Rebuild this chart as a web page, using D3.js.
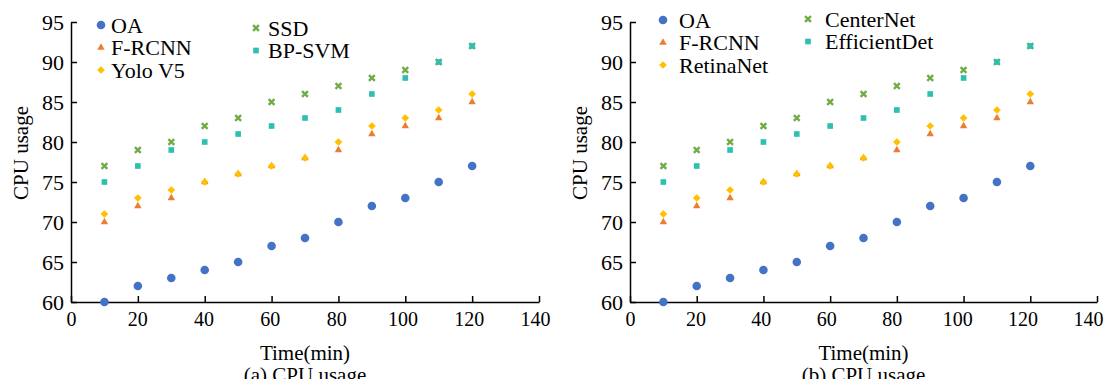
<!DOCTYPE html>
<html>
<head>
<meta charset="utf-8">
<script src="https://cdn.jsdelivr.net/npm/d3@7"></script>
<style>
  body { margin: 0; background: #fff; }
  svg text { font-family: "Liberation Serif", "DejaVu Serif", "Noto Serif", serif !important; fill: #000; }
</style>
</head>
<body>
<svg id="chart" width="1105" height="379"></svg>
<script>
// Dados
const TIMES = [10, 20, 30, 40, 50, 60, 70, 80, 90, 100, 110, 120]
const OA = [60, 62, 63, 64, 65, 67, 68, 70, 72, 73, 75, 77]
const FRCNN = [70, 72, 73, 75, 76, 77, 78, 79, 81, 82, 83, 85]
const DET3 = [71, 73, 74, 75, 76, 77, 78, 80, 82, 83, 84, 86]
const DET4 = [77, 79, 80, 82, 83, 85, 86, 87, 88, 89, 90, 92]
const DET5 = [75, 77, 79, 80, 81, 82, 83, 84, 86, 88, 90, 92]
const X_TICKS = [0, 20, 40, 60, 80, 100, 120, 140]
const Y_TICKS = [60, 65, 70, 75, 80, 85, 90, 95]
const NAMES_A = ['OA', 'F-RCNN', 'Yolo V5', 'SSD', 'BP-SVM']
const NAMES_B = ['OA', 'F-RCNN', 'RetinaNet', 'CenterNet', 'EfficientDet']

const COLORS = ['#4472c4', '#ed7d31', '#ffc000', '#70ad47', '#2ebfb0']
const SYMBOLS = [d3.symbolCircle, d3.symbolTriangle, d3.symbolSquare, d3.symbolX, d3.symbolSquare]
const SIZES = [58, 24, 30, 24, 32]
const ROTATE = [0, 0, 45, 0, 0] // o "diamante" é um quadrado rodado
const SERIES = [OA, FRCNN, DET3, DET4, DET5]
const FONT = '"Liberation Serif", "DejaVu Serif", serif'

const svg = d3.select('#chart')

function marker (g, i, px, py) {
  const path = g.append('path')
    .attr('d', d3.symbol(SYMBOLS[i], SIZES[i])())
    .attr('transform', `translate(${px},${py}) rotate(${ROTATE[i]})`)
  if (SYMBOLS[i] === d3.symbolX) {
    path.attr('fill', 'none').attr('stroke', COLORS[i]).attr('stroke-width', 2.4)
  } else {
    path.attr('fill', COLORS[i])
  }
  return path
}

function drawPanel (opts) {
  const x = d3.scaleLinear().domain([0, 140]).range([opts.left, opts.right])
  const y = d3.scaleLinear().domain([60, 95]).range([302, 22])
  const g = svg.append('g').attr('font-family', FONT)

  // Eixo x (os rótulos ficam ligeiramente à esquerda das marcas, como no original)
  const xAxis = g.append('g')
    .attr('transform', `translate(0,${y(60)})`)
    .call(d3.axisBottom(x).tickValues(X_TICKS).tickSizeInner(-6).tickSizeOuter(0).tickPadding(10))
    .attr('font-family', FONT)
  xAxis.selectAll('text').attr('font-size', '20px').attr('dx', d => -(d / 140) * opts.shift)

  // Eixo y
  const yAxis = g.append('g')
    .attr('transform', `translate(${opts.left},0)`)
    .call(d3.axisLeft(y).tickValues(Y_TICKS).tickSizeInner(-6).tickSizeOuter(0).tickPadding(7))
    .attr('font-family', FONT)
  yAxis.selectAll('text').attr('font-size', '22px')

  g.selectAll('.domain, .tick line').attr('stroke', '#000').attr('stroke-width', 1.5)

  // Legendas dos eixos
  g.append('text')
    .attr('transform', `translate(${opts.left - 50},153) rotate(-90)`)
    .attr('text-anchor', 'middle')
    .attr('dominant-baseline', 'central')
    .attr('font-size', '21px')
    .text('CPU usage')

  const cx = (opts.left + opts.right) / 2
  g.append('text').attr('x', cx).attr('y', 353)
    .attr('text-anchor', 'middle').attr('dominant-baseline', 'central')
    .attr('font-size', '21px').text('Time(min)')
  g.append('text').attr('x', cx).attr('y', 375)
    .attr('text-anchor', 'middle').attr('dominant-baseline', 'central')
    .attr('font-size', '21px').text(opts.caption)

  // Pontos
  SERIES.forEach((vals, i) => {
    TIMES.forEach((t, k) => {
      marker(g, i, x(t), y(vals[k]))
    })
  })

  // Legenda
  opts.names.forEach((name, i) => {
    const col = i < 3 ? 0 : 1
    const row = i < 3 ? i : i - 3
    const ty = opts.legend[col].y0 + row * 22.5
    marker(g, i, opts.legend[col].mx, ty)
    g.append('text')
      .attr('x', opts.legend[col].tx)
      .attr('y', ty)
      .attr('dominant-baseline', 'central')
      .attr('font-size', '22px')
      .text(name)
  })
}

drawPanel({
  left: 71,
  right: 539,
  shift: 4,
  caption: '(a) CPU usage',
  names: NAMES_A,
  legend: [{ mx: 101, tx: 111, y0: 25 }, { mx: 256, tx: 268, y0: 28 }]
})

drawPanel({
  left: 630,
  right: 1097,
  shift: 9,
  caption: '(b) CPU usage',
  names: NAMES_B,
  legend: [{ mx: 663, tx: 679, y0: 20 }, { mx: 808, tx: 825, y0: 19 }]
})
</script>
</body>
</html>
